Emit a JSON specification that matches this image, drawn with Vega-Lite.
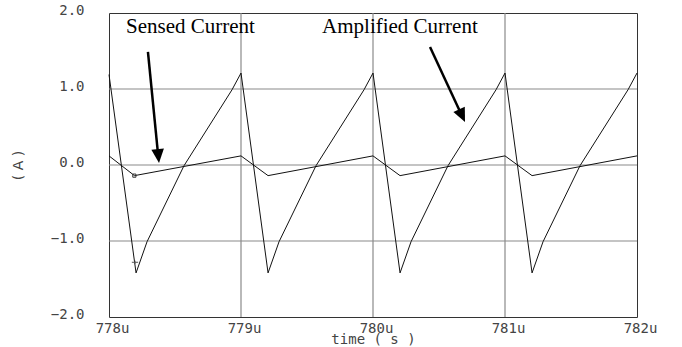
{
  "$schema": "https://vega.github.io/schema/vega-lite/v6.json",
  "width": 528,
  "height": 304,
  "autosize": {"type": "none"},
  "padding": {"left": 109, "top": 13, "right": 45, "bottom": 30},
  "background": "#ffffff",
  "config": {
    "view": {"stroke": "#333333", "strokeWidth": 1},
    "axis": {
      "labelFont": "DejaVu Sans Mono",
      "labelFontSize": 14,
      "labelColor": "#444444",
      "titleFont": "DejaVu Sans Mono",
      "titleFontSize": 14,
      "titleFontWeight": "normal",
      "titleColor": "#444444",
      "domain": false,
      "grid": false,
      "ticks": false,
      "labelOverlap": false,
      "labelFlush": false
    }
  },
  "datasets": {
    "curves": [
      {"series": "Amplified", "t": 778, "value": 1.19},
      {"series": "Amplified", "t": 778.205, "value": -1.42},
      {"series": "Amplified", "t": 778.288, "value": -1.01},
      {"series": "Amplified", "t": 778.568, "value": -0.01},
      {"series": "Amplified", "t": 778.932, "value": 0.99},
      {"series": "Amplified", "t": 779, "value": 1.21},
      {"series": "Amplified", "t": 779.205, "value": -1.42},
      {"series": "Amplified", "t": 779.288, "value": -1.01},
      {"series": "Amplified", "t": 779.568, "value": -0.01},
      {"series": "Amplified", "t": 779.932, "value": 0.99},
      {"series": "Amplified", "t": 780, "value": 1.21},
      {"series": "Amplified", "t": 780.205, "value": -1.42},
      {"series": "Amplified", "t": 780.288, "value": -1.01},
      {"series": "Amplified", "t": 780.568, "value": -0.01},
      {"series": "Amplified", "t": 780.932, "value": 0.99},
      {"series": "Amplified", "t": 781, "value": 1.21},
      {"series": "Amplified", "t": 781.205, "value": -1.42},
      {"series": "Amplified", "t": 781.288, "value": -1.01},
      {"series": "Amplified", "t": 781.568, "value": -0.01},
      {"series": "Amplified", "t": 781.932, "value": 0.99},
      {"series": "Amplified", "t": 782, "value": 1.21},
      {"series": "Sensed", "t": 778, "value": 0.12},
      {"series": "Sensed", "t": 778.193, "value": -0.14},
      {"series": "Sensed", "t": 779, "value": 0.12},
      {"series": "Sensed", "t": 779.205, "value": -0.14},
      {"series": "Sensed", "t": 780, "value": 0.12},
      {"series": "Sensed", "t": 780.205, "value": -0.14},
      {"series": "Sensed", "t": 781, "value": 0.12},
      {"series": "Sensed", "t": 781.205, "value": -0.14},
      {"series": "Sensed", "t": 782, "value": 0.12}
    ],
    "vgrid": [{"t": 779}, {"t": 780}, {"t": 781}],
    "hgrid": [{"value": 1}, {"value": 0}, {"value": -1}],
    "xticks": [
      {"t": 778.1}, {"t": 778.2}, {"t": 778.3}, {"t": 778.4}, {"t": 778.5}, {"t": 778.6}, {"t": 778.7}, {"t": 778.8}, {"t": 778.9},
      {"t": 779.1}, {"t": 779.2}, {"t": 779.3}, {"t": 779.4}, {"t": 779.5}, {"t": 779.6}, {"t": 779.7}, {"t": 779.8}, {"t": 779.9},
      {"t": 780.1}, {"t": 780.2}, {"t": 780.3}, {"t": 780.4}, {"t": 780.5}, {"t": 780.6}, {"t": 780.7}, {"t": 780.8}, {"t": 780.9},
      {"t": 781.1}, {"t": 781.2}, {"t": 781.3}, {"t": 781.4}, {"t": 781.5}, {"t": 781.6}, {"t": 781.7}, {"t": 781.8}, {"t": 781.9}
    ],
    "yticks": [
      {"value": -1.9}, {"value": -1.8}, {"value": -1.7}, {"value": -1.6}, {"value": -1.5}, {"value": -1.4}, {"value": -1.3}, {"value": -1.2}, {"value": -1.1},
      {"value": -0.9}, {"value": -0.8}, {"value": -0.7}, {"value": -0.6}, {"value": -0.5}, {"value": -0.4}, {"value": -0.3}, {"value": -0.2}, {"value": -0.1},
      {"value": 0.1}, {"value": 0.2}, {"value": 0.3}, {"value": 0.4}, {"value": 0.5}, {"value": 0.6}, {"value": 0.7}, {"value": 0.8}, {"value": 0.9},
      {"value": 1.1}, {"value": 1.2}, {"value": 1.3}, {"value": 1.4}, {"value": 1.5}, {"value": 1.6}, {"value": 1.7}, {"value": 1.8}, {"value": 1.9}
    ],
    "labels": [
      {"label": "Sensed Current", "t": 778.129, "value": 1.733},
      {"label": "Amplified Current", "t": 779.614, "value": 1.733}
    ],
    "arrows": [
      {"name": "Sensed", "t": 778.295, "value": 1.487, "t2": 778.373, "value2": 0.118},
      {"name": "Amplified", "t": 780.432, "value": 1.553, "t2": 780.674, "value2": 0.649}
    ],
    "heads": [
      {"name": "Sensed", "t": 778.379, "value": 0.026},
      {"name": "Amplified", "t": 780.697, "value": 0.566}
    ],
    "markers": [
      {"kind": "square", "t": 778.192, "value": -0.14},
      {"kind": "plus", "t": 778.197, "value": -1.28}
    ]
  },
  "encoding": {
    "x": {
      "field": "t",
      "type": "quantitative",
      "scale": {"domain": [778, 782], "nice": false, "zero": false},
      "axis": {
        "title": "time ( s )",
        "values": [778, 779, 780, 781, 782],
        "labelExpr": "format(datum.value, 'd') + 'u'",
        "labelPadding": 4,
        "labelOffset": 3,
        "titlePadding": -3
      }
    },
    "y": {
      "field": "value",
      "type": "quantitative",
      "scale": {"domain": [-2, 2], "nice": false, "zero": false},
      "axis": {
        "title": "( A )",
        "titleFont": "DejaVu Sans",
        "values": [-2, -1, 0, 1, 2],
        "format": ".1f",
        "labelPadding": 25,
        "labelOffset": -3,
        "titlePadding": 25
      }
    }
  },
  "layer": [
    {
      "data": {"name": "vgrid"},
      "mark": {"type": "rule", "color": "#8a8a8a", "strokeWidth": 1.2},
      "encoding": {"y": null}
    },
    {
      "data": {"name": "hgrid"},
      "mark": {"type": "rule", "color": "#8a8a8a", "strokeWidth": 1.2},
      "encoding": {"x": null}
    },
    {
      "data": {"name": "xticks"},
      "mark": {"type": "rule", "color": "#222222", "strokeWidth": 1},
      "encoding": {"y": {"datum": -2}, "y2": {"datum": -1.935}}
    },
    {
      "data": {"name": "yticks"},
      "mark": {"type": "rule", "color": "#222222", "strokeWidth": 1},
      "encoding": {"x": {"datum": 778}, "x2": {"datum": 778.045}}
    },
    {
      "data": {"name": "curves"},
      "mark": {"type": "line", "color": "#111111", "strokeWidth": 1},
      "encoding": {"detail": {"field": "series", "type": "nominal"}}
    },
    {
      "data": {"name": "arrows"},
      "mark": {"type": "rule", "color": "#000000", "strokeWidth": 2.5},
      "encoding": {
        "x2": {"field": "t2"},
        "y2": {"field": "value2"}
      }
    },
    {
      "data": {"name": "heads"},
      "transform": [{"filter": "datum.name == 'Sensed'"}],
      "mark": {"type": "point", "shape": "M0,0L-0.45,-1L0.45,-1Z", "size": 784, "filled": true, "color": "#000000", "opacity": 1, "angle": -5.7}
    },
    {
      "data": {"name": "heads"},
      "transform": [{"filter": "datum.name == 'Amplified'"}],
      "mark": {"type": "point", "shape": "M0,0L-0.45,-1L0.45,-1Z", "size": 784, "filled": true, "color": "#000000", "opacity": 1, "angle": -25}
    },
    {
      "data": {"name": "labels"},
      "mark": {"type": "text", "align": "left", "baseline": "alphabetic", "font": "Liberation Serif", "fontSize": 21, "color": "#000000"},
      "encoding": {"text": {"field": "label"}}
    },
    {
      "data": {"name": "markers"},
      "transform": [{"filter": "datum.kind == 'square'"}],
      "mark": {"type": "point", "shape": "square", "size": 10, "filled": false, "color": "#333333", "strokeWidth": 1, "opacity": 1}
    },
    {
      "data": {"name": "markers"},
      "transform": [{"filter": "datum.kind == 'plus'"}],
      "mark": {"type": "point", "shape": "M-1,0L1,0M0,-0.5L0,0.5", "size": 40, "filled": false, "color": "#555555", "strokeWidth": 1, "opacity": 1}
    }
  ]
}
